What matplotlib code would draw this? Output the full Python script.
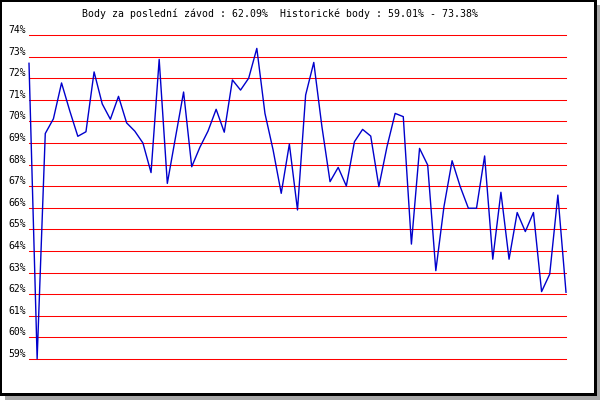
import matplotlib
matplotlib.use("Agg")
import matplotlib.pyplot as plt
import matplotlib.transforms as mtransforms
from matplotlib.patches import Rectangle

# ---- data ----
races = list(range(1, 68))
points = [72.69, 59.01, 69.44, 70.12, 71.78, 70.50, 69.31, 69.52, 72.29, 70.81,
          70.10, 71.16, 69.93, 69.55, 69.00, 67.63, 72.87, 67.13, 69.25, 71.36,
          67.90, 68.80, 69.55, 70.56, 69.50, 71.92, 71.45, 72.00, 73.38, 70.37,
          68.68, 66.67, 68.95, 65.90, 71.22, 72.73, 69.76, 67.21, 67.87, 67.01,
          69.06, 69.63, 69.32, 66.98, 68.83, 70.37, 70.22, 64.32, 68.75, 67.98,
          63.09, 66.05, 68.18, 66.98, 65.98, 65.98, 68.40, 63.62, 66.72, 63.62,
          65.78, 64.90, 65.78, 62.12, 62.93, 66.59, 62.09]
grid_levels = list(range(59, 75))
tick_labels = [f"{v}%" for v in grid_levels]
title = "Body za poslední závod : 62.09%  Historické body : 59.01% - 73.38%"

W, H = 600, 400
fig = plt.figure(figsize=(6, 4), dpi=100)
fig.patch.set_facecolor("white")

# frame with shadow (pixel coordinates)
fig.patches.append(Rectangle((5, 0), 595, 395, transform=None, facecolor="#a8a8a8",
                             edgecolor="none", zorder=-3, antialiased=False))
fig.patches.append(Rectangle((0, 4), 597, 396, transform=None, facecolor="black",
                             edgecolor="none", zorder=-2, antialiased=False))
fig.patches.append(Rectangle((2, 7), 592, 391, transform=None, facecolor="white",
                             edgecolor="none", zorder=-1, antialiased=False))

left, right = 29, 566
top, bottom = 35, 359
ax = fig.add_axes([left / W, (H - bottom) / H, (right - left) / W, (bottom - top) / H])
ax.set_facecolor("none")
ax.set_zorder(1)
for s in ax.spines.values():
    s.set_visible(False)
ax.set_xticks([])
ax.set_yticks([])
ax.set_xlim(races[0], races[-1])
ax.set_ylim(grid_levels[0], grid_levels[-1])

for lvl in grid_levels:
    ax.axhline(lvl, color="#ff0000", lw=0.75, clip_on=False, antialiased=True,
               snap=True, zorder=1)

ax.plot(races, points, color="#0000cc", lw=1.0, antialiased=True, zorder=2,
        clip_on=False)

offset = mtransforms.ScaledTranslation(-3 / 100, 2 / 100, fig.dpi_scale_trans)
trans = ax.get_yaxis_transform() + offset
for lvl, lab in zip(grid_levels, tick_labels):
    ax.text(0, lvl, lab, transform=trans, ha="right", va="baseline",
            fontsize=7, family="DejaVu Sans Mono", color="black")

fig.text(82 / W, 1 - 13.5 / H, title, ha="left", va="center",
         fontsize=7.1, family="DejaVu Sans Mono", color="black")

fig.savefig("out.png", dpi=100)
